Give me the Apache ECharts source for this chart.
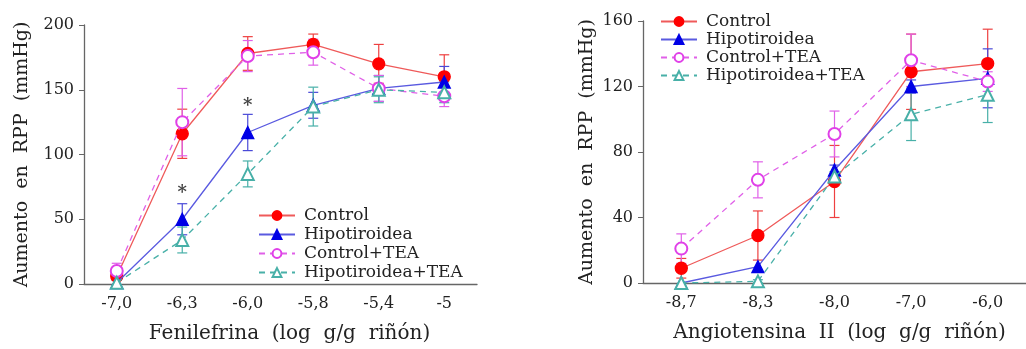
<!DOCTYPE html>
<html>
<head>
<meta charset="utf-8">
<script src="https://cdn.jsdelivr.net/npm/echarts@6/dist/echarts.min.js"></script>
<style>
  html, body { margin: 0; padding: 0; background: #fff; }
  #chart { width: 1026px; height: 349px; }
</style>
</head>
<body>
<div id="chart"></div>
<script>
// Categories (log dose, g/g kidney)
const fenCats = ['-7,0', '-6,3', '-6,0', '-5,8', '-5,4', '-5'];
const angCats = ['-8,7', '-8,3', '-8,0', '-7,0', '-6,0'];
const groupNames = ['Control', 'Hipotiroidea', 'Control+TEA', 'Hipotiroidea+TEA'];

// Fenilefrina: mean increase in RPP (mmHg) and SEM
const fenControl = [6, 116, 178, 185, 170, 160];
const fenControlErr = [3, 19, 13, 8, 15, 17];
const fenHipo = [1, 50, 117, 138, 151, 156];
const fenHipoErr = [2, 12, 14, 10, 10, 12];
const fenControlTEA = [10, 125, 176, 179, 151, 145];
const fenControlTEAErr = [6, 26, 12, 10, 10, 8];
const fenHipoTEA = [1, 34, 85, 137, 150, 148];
const fenHipoTEAErr = [2, 10, 10, 15, 10, 8];
// significance marks: [category index, height]
const fenStars = [[1, 70], [2, 137]];

// Angiotensina II: mean increase in RPP (mmHg) and SEM
const angControl = [9, 29, 62, 129, 134];
const angControlErr = [6, 15, 22, 23, 21];
const angHipo = [0, 10, 69, 120, 125];
const angHipoErr = [0, 0, 3, 4, 18];
const angControlTEA = [21, 63, 91, 136, 123];
const angControlTEAErr = [9, 11, 14, 16, 6];
const angHipoTEA = [0, 1, 65, 103, 115];
const angHipoTEAErr = [0, 1, 3, 16, 17];

const FONT = 'DejaVu Serif';
const styles = [
  { marker: '#ff0000', line: '#ef5a5a', bar: '#ee4040', symbol: 'circle', dash: 'solid' },
  { marker: '#0000e6', line: '#5a5ae0', bar: '#4a4ad8', symbol: 'triangle', dash: 'solid' },
  { marker: '#e040e8', line: '#e060e8', bar: '#e060e8', symbol: 'emptyCircle', dash: [6, 5] },
  { marker: '#48b0a8', line: '#48b0a8', bar: '#48b0a8', symbol: 'emptyTriangle', dash: [6, 5] }
];

function errorRenderer(color) {
  return function (params, api) {
    const x = api.value(0), v = api.value(1), e = api.value(2);
    if (!e) return null;
    const top = api.coord([x, v + e]);
    const bot = api.coord([x, v - e]);
    const hw = 5;
    const st = { stroke: color, lineWidth: 1.2 };
    return {
      type: 'group',
      children: [
        { type: 'line', shape: { x1: top[0], y1: top[1], x2: bot[0], y2: bot[1] }, style: st },
        { type: 'line', shape: { x1: top[0] - hw, y1: top[1], x2: top[0] + hw, y2: top[1] }, style: st },
        { type: 'line', shape: { x1: bot[0] - hw, y1: bot[1], x2: bot[0] + hw, y2: bot[1] }, style: st }
      ]
    };
  };
}

function buildSeries(idx, values, errs) {
  const out = [];
  values.forEach(function (vals, k) {
    const s = styles[k];
    out.push({
      type: 'custom',
      name: groupNames[k] + ' SEM',
      xAxisIndex: idx, yAxisIndex: idx,
      renderItem: errorRenderer(s.bar),
      data: vals.map(function (v, i) { return [i, v, errs[k][i]]; }),
      z: 1, silent: true
    });
    out.push({
      type: 'line',
      name: groupNames[k],
      xAxisIndex: idx, yAxisIndex: idx,
      data: vals,
      symbol: s.symbol,
      symbolSize: 12,
      showAllSymbol: true,
      lineStyle: { color: s.line, width: 1.3, type: s.dash },
      itemStyle: { color: s.marker, borderColor: s.marker, borderWidth: 1.3 },
      z: 3 + k, animation: false
    });
  });
  return out;
}

function xAxis(idx, cats, name, shift) {
  return {
    type: 'category', gridIndex: idx, data: cats, boundaryGap: true,
    name: name, nameLocation: 'middle', nameGap: 40,
    nameTextStyle: { fontFamily: FONT, fontSize: 20, color: '#222', padding: [0, 0, 0, shift] },
    axisLine: { lineStyle: { color: '#666', width: 1.3 } },
    axisTick: { alignWithLabel: true, inside: true, length: 5, lineStyle: { color: '#666' } },
    axisLabel: { fontFamily: FONT, fontSize: 16, color: '#222', margin: 12 },
    splitLine: { show: false }
  };
}

function yAxis(idx, max, interval, gap) {
  return {
    type: 'value', gridIndex: idx, min: 0, max: max, interval: interval,
    name: 'Aumento  en  RPP  (mmHg)', nameLocation: 'middle', nameGap: gap,
    nameTextStyle: { fontFamily: FONT, fontSize: 19, color: '#222' },
    axisLine: { show: true, lineStyle: { color: '#666', width: 1.3 } },
    axisTick: { show: true, length: 5, lineStyle: { color: '#666' } },
    axisLabel: { fontFamily: FONT, fontSize: 16, color: '#222', margin: 10 },
    splitLine: { show: false }
  };
}

function legend(left, top, gap) {
  return {
    orient: 'vertical', left: left, top: top, itemGap: gap,
    itemWidth: 36, itemHeight: 11,
    data: groupNames,
    textStyle: { fontFamily: FONT, fontSize: 17, color: '#222', padding: [0, 0, 0, 4] },
    selectedMode: false
  };
}

const series = []
  .concat(buildSeries(0, [fenControl, fenHipo, fenControlTEA, fenHipoTEA],
    [fenControlErr, fenHipoErr, fenControlTEAErr, fenHipoTEAErr]))
  .concat(buildSeries(1, [angControl, angHipo, angControlTEA, angHipoTEA],
    [angControlErr, angHipoErr, angControlTEAErr, angHipoTEAErr]));

series.push({
  type: 'scatter', name: 'sig', xAxisIndex: 0, yAxisIndex: 0,
  data: fenStars, symbolSize: 0,
  label: { show: true, formatter: '*', position: 'inside', fontSize: 18, fontFamily: FONT, fontWeight: 'bold', color: '#111' },
  z: 10, silent: true
});

const chart = echarts.init(document.getElementById('chart'), null, { renderer: 'canvas' });
chart.setOption({
  animation: false,
  backgroundColor: '#fff',
  grid: [
    { left: 84, top: 25, width: 393, height: 261 },
    { left: 643, top: 21, width: 393, height: 262 }
  ],
  xAxis: [
    xAxis(0, fenCats, 'Fenilefrina  (log  g/g  riñón)', 18),
    xAxis(1, angCats, 'Angiotensina  II  (log  g/g  riñón)', 10)
  ],
  yAxis: [yAxis(0, 200, 50, 52), yAxis(1, 160, 40, 46)],
  legend: [legend(253, 202, 2), legend(655, 8, 1)],
  series: series
});
</script>
</body>
</html>
